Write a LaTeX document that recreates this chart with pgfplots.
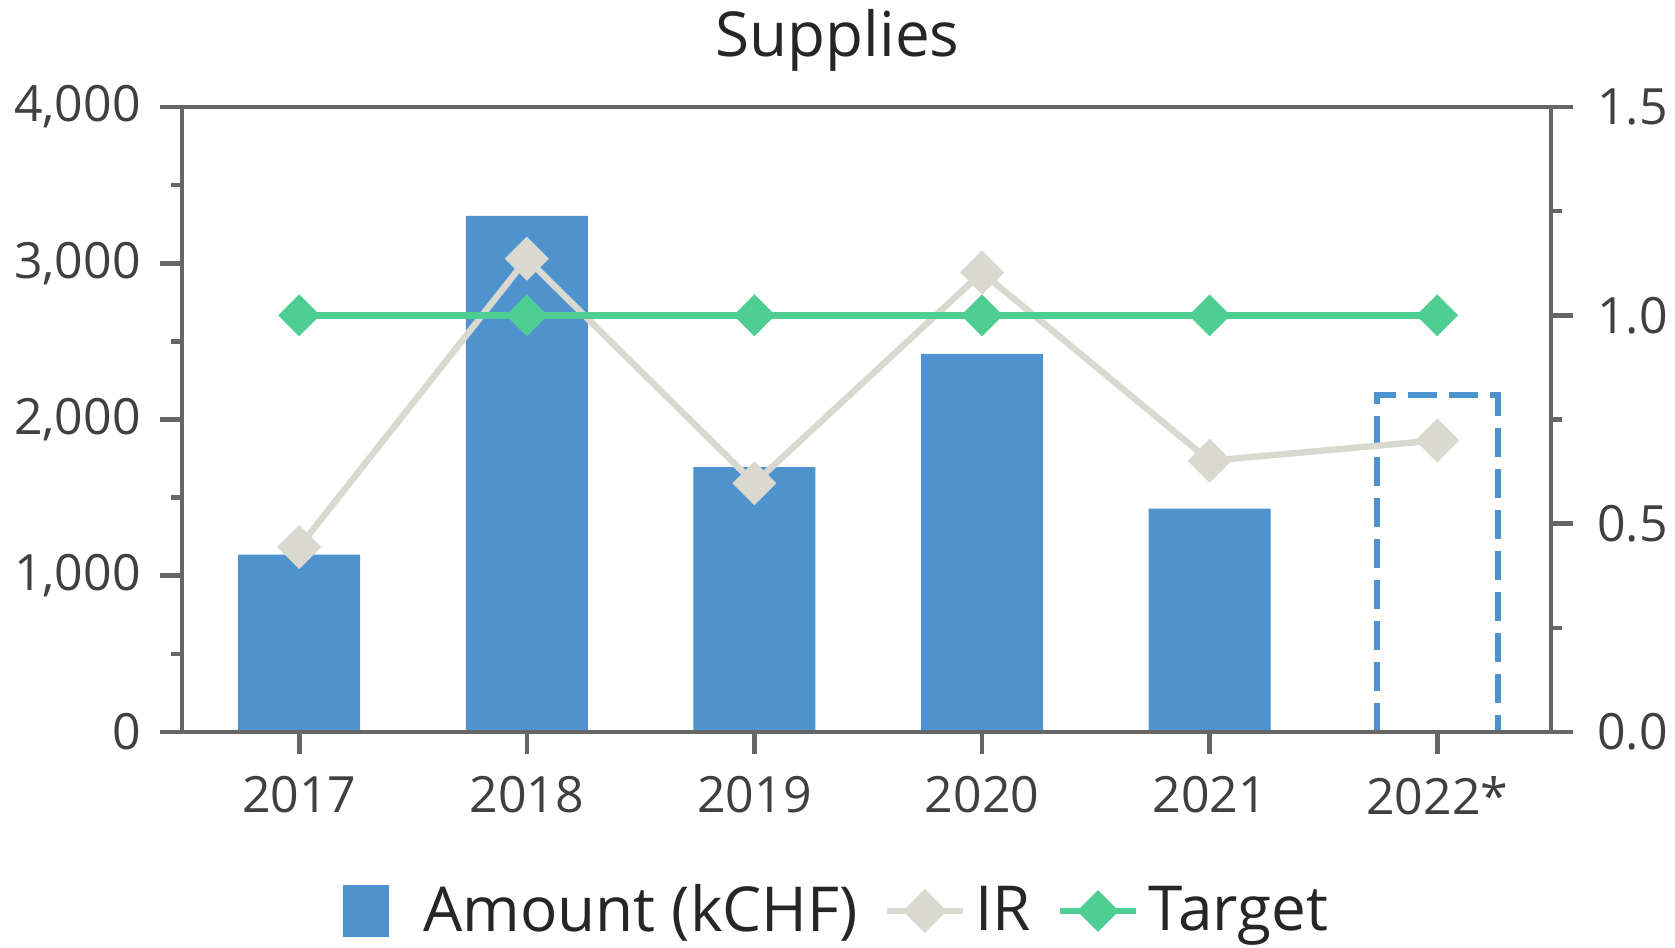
\documentclass[border=0pt]{standalone}
\usepackage{fontspec}
\setmainfont{Open Sans}
\usepackage{pgfplots}
\pgfplotsset{compat=1.18}
\definecolor{barblue}{RGB}{79,147,206}
\definecolor{irgray}{RGB}{217,217,208}
\definecolor{tgreen}{RGB}{78,206,147}
\definecolor{axgray}{RGB}{102,102,102}
\definecolor{txt}{RGB}{64,64,64}
\pgfplotsset{
  common/.style={
    scale only axis, width=342.25pt, height=156.25pt,
    at={(0,0)}, anchor=south west,
    xmin=-0.515, xmax=5.5,
    axis line style={axgray, line width=1.15pt},
    every tick/.style={axgray, line width=1.15pt},
    tick align=outside,
    major tick length=5.5pt, minor tick length=2.8pt,
    tick label style={font=\fontsize{12.5}{14}\selectfont, text=txt},
    /pgf/number format/assume math mode=true,
  }
}
\begin{document}
\begin{tikzpicture}
\useasboundingbox (-45.5pt,-53.75pt) rectangle (373.25pt,183pt);
\begin{axis}[common, axis on top,
  ymin=0, ymax=4000, ytick={0,1000,2000,3000,4000}, minor ytick={500,1500,2500,3500},
  ytick pos=left, xtick pos=bottom,
  xtick={0,1,2,3,4,5}, xticklabels={2017,2018,2019,2020,2021,2022*},
  xticklabel style={yshift=-2pt},
  yticklabel style={xshift=-1.3pt, /pgf/number format/.cd, 1000 sep={,}},
  scaled y ticks=false,
  ybar, bar width=30.5pt, bar shift=0pt,
]
\addplot[fill=barblue, draw=none] coordinates {(0,1135) (1,3303) (2,1696) (3,2420) (4,1429)};
% 2022* forecast: dashed outline of the bar (value 2160)
\addplot[sharp plot, no marks, fill=none, draw=barblue, line width=1.5pt, dash pattern=on 7.25pt off 3pt]
  coordinates {(4.735,0) (4.735,2160) (5.265,2160) (5.265,0)};
\end{axis}
\begin{axis}[common,
  ymin=0, ymax=1.5, ytick={0,0.5,1,1.5}, minor ytick={0.25,0.75,1.25},
  axis y line*=right, axis x line=none,
  yticklabel style={xshift=2.5pt, /pgf/number format/.cd, fixed, fixed zerofill, precision=1},
  legend columns=3,
  legend style={at={(0.479,-0.2864)}, anchor=center, draw=none, fill=none,
    font=\fontsize{15.5}{18}\selectfont, text=black!85,
    nodes={inner xsep=2.4pt},
    /tikz/every even column/.append style={column sep=4pt}},
  legend image code/.code={\draw[mark repeat=2, mark phase=2, #1] plot coordinates {(0pt,0pt) (9.5pt,0pt) (19pt,0pt)};},
]
\addlegendimage{legend image code/.code={\path[draw=none, fill=none] (0pt,0pt) -- (19pt,0pt); \fill[barblue] (1.5pt,-6.4pt) rectangle (12.5pt,6.4pt);}}
\addlegendentry{Amount (kCHF)}
\addplot[irgray, line width=1.6pt, mark=square*, mark size=3.1pt, mark options={rotate=45, fill=irgray, draw=irgray}]
  coordinates {(0,0.444) (1,1.136) (2,0.597) (3,1.103) (4,0.651) (5,0.700)};
\addlegendentry{IR}
\addplot[tgreen, line width=1.6pt, mark=square*, mark size=2.9pt, mark options={rotate=45, fill=tgreen, draw=tgreen}]
  coordinates {(0,1) (1,1) (2,1) (3,1) (4,1) (5,1)};
\addlegendentry{Target}
\end{axis}
\node[font=\fontsize{15.5}{18}\selectfont, text=black!85] at (163.9pt,173pt) {Supplies};
\end{tikzpicture}
\end{document}
